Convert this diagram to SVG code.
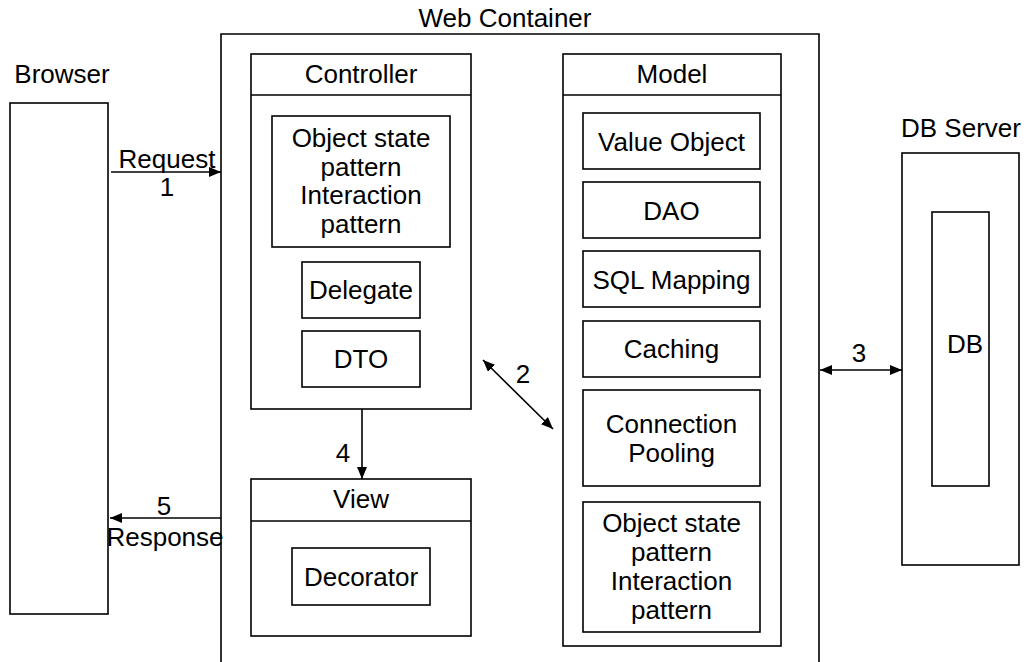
<svg xmlns="http://www.w3.org/2000/svg" width="1027" height="662" viewBox="0 0 1027 662">
<style>
  .box { fill: #fff; stroke: #000; stroke-width: 1.6; }
  .ln { stroke: #000; stroke-width: 1.6; fill: none; }
  text { font-family: "Liberation Sans", Arial, sans-serif; font-size: 26px; fill: #000; text-anchor: middle; }
</style>
<defs>
  <marker id="ah" markerWidth="12" markerHeight="10" refX="12" refY="5" orient="auto" markerUnits="userSpaceOnUse">
    <path d="M0,0 L12,5 L0,10 Z" fill="#000"/>
  </marker>
  <marker id="ahs" markerWidth="12" markerHeight="10" refX="0" refY="5" orient="auto" markerUnits="userSpaceOnUse">
    <path d="M12,0 L0,5 L12,10 Z" fill="#000"/>
  </marker>
</defs>
<rect width="1027" height="662" fill="#fff"/>

<g id="web-container">
  <path class="ln" d="M221,670 V34 H819 V670"/>
  <text x="505" y="27">Web Container</text>
</g>

<g id="browser">
  <rect class="box" x="10" y="103" width="98" height="511"/>
  <text x="62" y="83">Browser</text>
</g>

<g id="controller">
  <rect class="box" x="251" y="54" width="220" height="355"/>
  <line class="ln" x1="251" y1="95" x2="471" y2="95"/>
  <text x="361" y="83">Controller</text>
</g>
<g id="ctrl-pattern">
  <rect class="box" x="272" y="116" width="178" height="131"/>
  <text x="361" y="147">Object state</text>
  <text x="361" y="176">pattern</text>
  <text x="361" y="204">Interaction</text>
  <text x="361" y="233">pattern</text>
</g>
<g id="delegate">
  <rect class="box" x="302" y="262" width="118" height="56"/>
  <text x="361" y="299">Delegate</text>
</g>
<g id="dto">
  <rect class="box" x="302" y="331" width="118" height="56"/>
  <text x="361" y="368">DTO</text>
</g>

<g id="view">
  <rect class="box" x="251" y="479" width="220" height="157"/>
  <line class="ln" x1="251" y1="521" x2="471" y2="521"/>
  <text x="361" y="508">View</text>
</g>
<g id="decorator">
  <rect class="box" x="292" y="548" width="138" height="57"/>
  <text x="361" y="586">Decorator</text>
</g>

<g id="model">
  <rect class="box" x="563" y="54" width="218" height="592"/>
  <line class="ln" x1="563" y1="95" x2="781" y2="95"/>
  <text x="672" y="83">Model</text>
</g>
<g id="value-object">
  <rect class="box" x="583" y="113" width="177" height="56"/>
  <text x="671.5" y="151">Value Object</text>
</g>
<g id="dao">
  <rect class="box" x="583" y="182" width="177" height="56"/>
  <text x="671.5" y="220">DAO</text>
</g>
<g id="sql-mapping">
  <rect class="box" x="583" y="251" width="177" height="56"/>
  <text x="671.5" y="289">SQL Mapping</text>
</g>
<g id="caching">
  <rect class="box" x="583" y="321" width="177" height="56"/>
  <text x="671.5" y="358">Caching</text>
</g>
<g id="connection-pooling">
  <rect class="box" x="583" y="390" width="177" height="96"/>
  <text x="671.5" y="433">Connection</text>
  <text x="671.5" y="462">Pooling</text>
</g>
<g id="model-pattern">
  <rect class="box" x="583" y="502" width="177" height="130"/>
  <text x="671.5" y="532">Object state</text>
  <text x="671.5" y="561">pattern</text>
  <text x="671.5" y="590">Interaction</text>
  <text x="671.5" y="619">pattern</text>
</g>

<g id="db-server">
  <rect class="box" x="902" y="153" width="117" height="412"/>
  <text x="961" y="137">DB Server</text>
</g>
<g id="db">
  <rect class="box" x="932" y="212" width="57" height="274"/>
  <text x="965" y="353">DB</text>
</g>

<g id="connectors">
  <line class="ln" x1="111" y1="172" x2="221" y2="172" marker-end="url(#ah)"/>
  <text x="167" y="168">Request</text>
  <text x="167" y="196">1</text>

  <line class="ln" x1="483" y1="360" x2="553" y2="429" marker-start="url(#ahs)" marker-end="url(#ah)"/>
  <text x="523" y="383">2</text>

  <line class="ln" x1="820" y1="370" x2="902" y2="370" marker-start="url(#ahs)" marker-end="url(#ah)"/>
  <text x="859" y="362">3</text>

  <line class="ln" x1="362" y1="409" x2="362" y2="479" marker-end="url(#ah)"/>
  <text x="343" y="462">4</text>

  <line class="ln" x1="221" y1="518" x2="110" y2="518" marker-end="url(#ah)"/>
  <text x="164" y="515">5</text>
  <text x="165" y="546">Response</text>
</g>
</svg>
